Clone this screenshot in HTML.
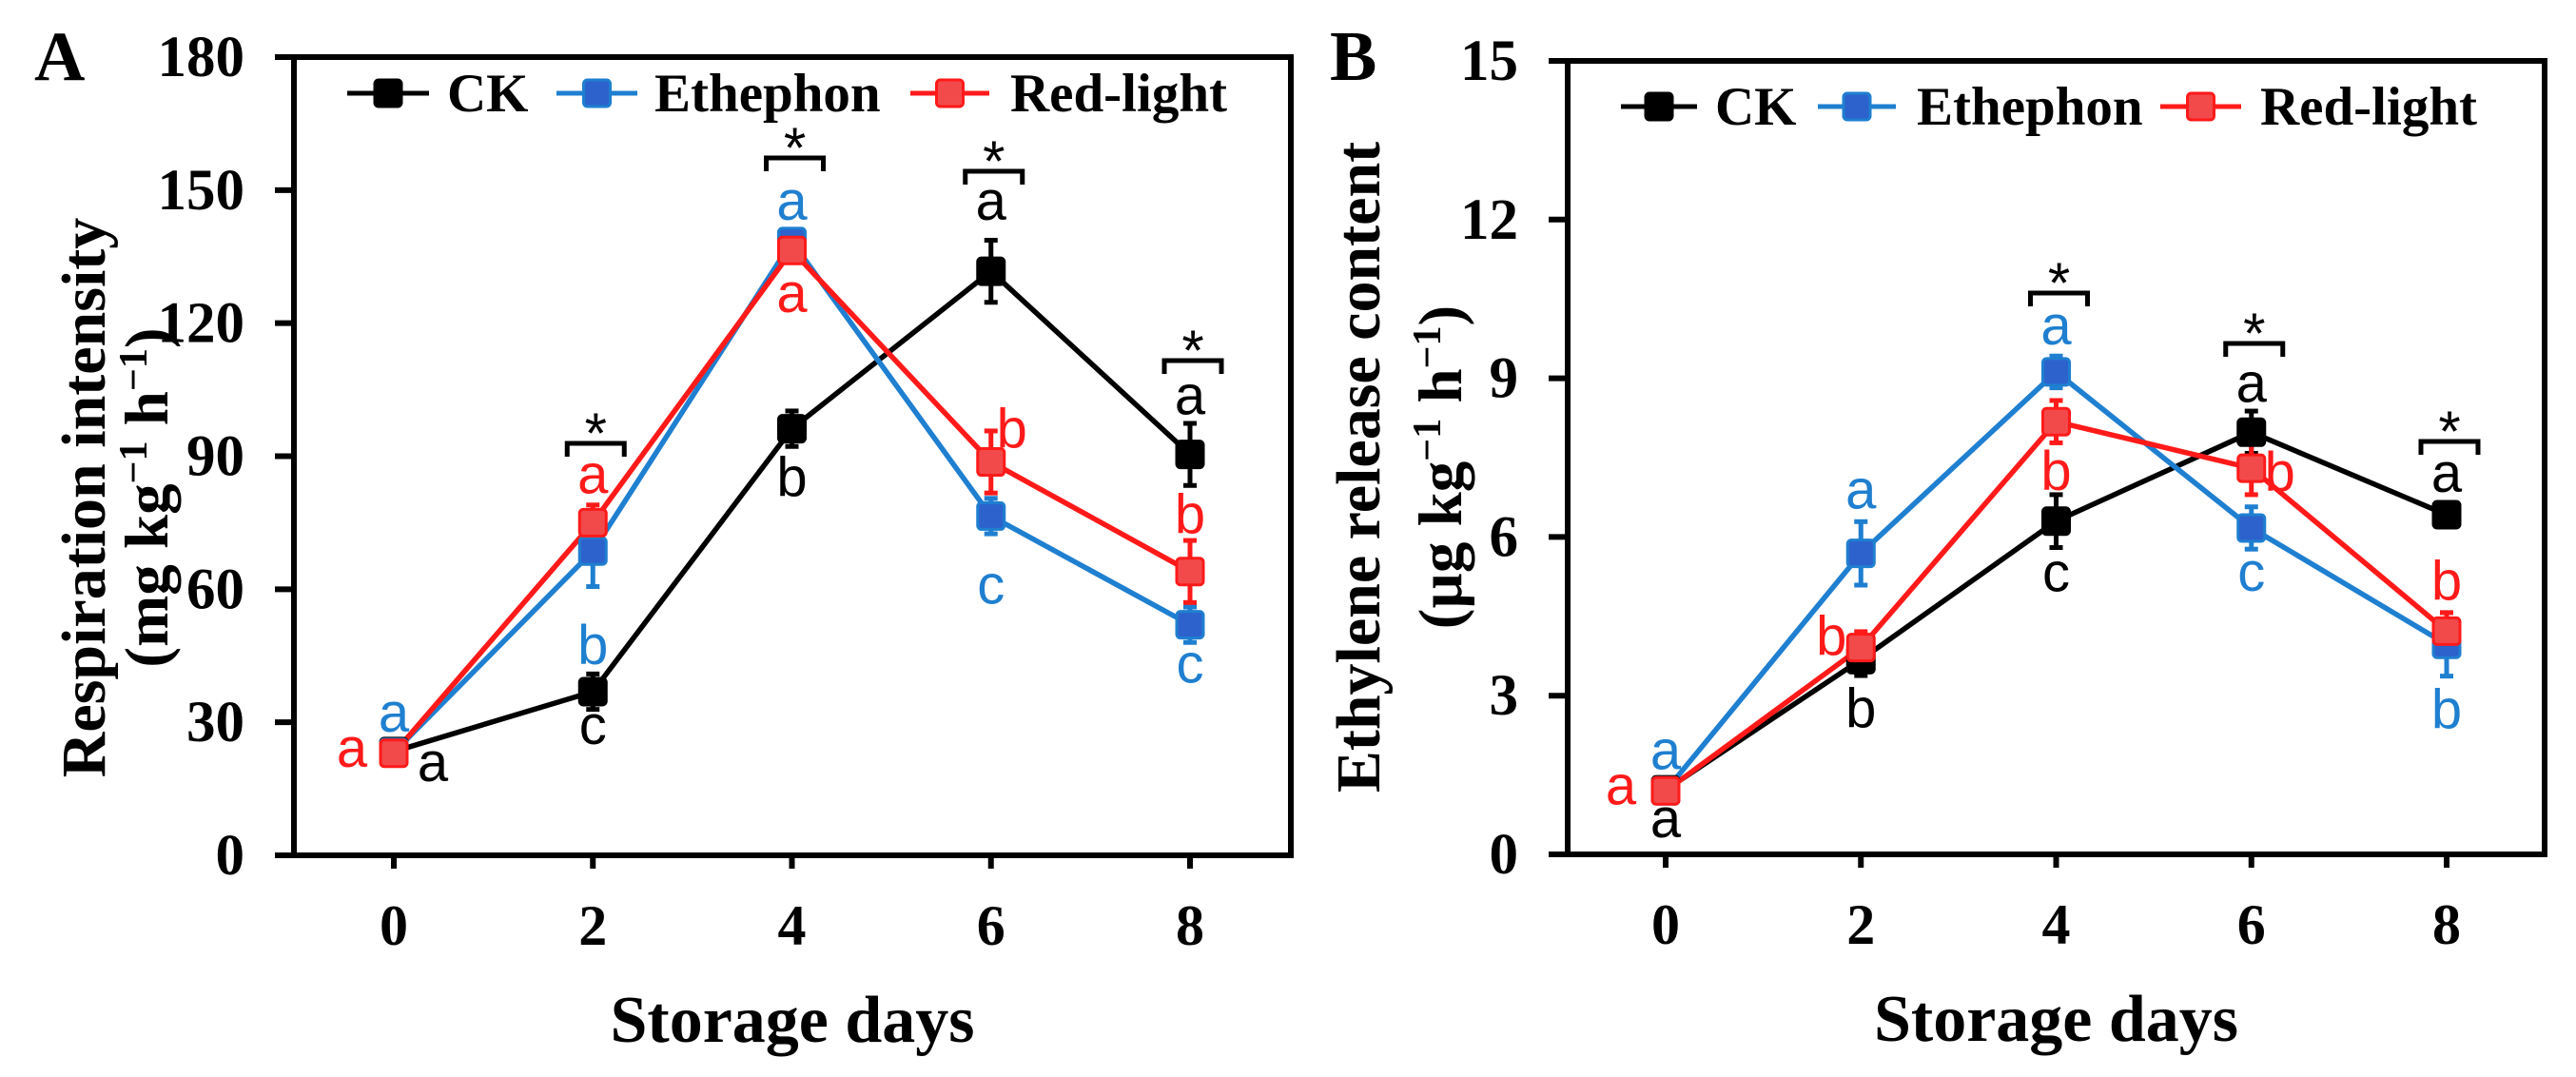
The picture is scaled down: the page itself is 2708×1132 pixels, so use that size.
<!DOCTYPE html>
<html><head><meta charset="utf-8"><style>
html,body{margin:0;padding:0;background:#fff}
svg{display:block}
.tk{font-family:"Liberation Serif",serif;font-weight:bold}
.lt{font-family:"Liberation Sans",sans-serif}
</style></head><body>
<svg id="fig" width="2708" height="1132" viewBox="0 0 2708 1132" xmlns="http://www.w3.org/2000/svg"></svg>
<script>
const days=[0,2,4,6,8];
const seriesNames=["CK","Ethephon","Red-light"];
const respCK=[23.4,36.9,96.2,131.7,90.4];
const respEth=[23.2,68.6,138.4,76.5,52];
const respRed=[23,75,136.4,88.7,64];
const respCKErr=[1.5,4,4,7,7];
const respEthErr=[1.5,8,2,4,4];
const respRedErr=[1.5,4,2,7,7];
const ethCK=[1.22,3.68,6.3,7.98,6.42];
const ethEth=[1.2,5.69,9.12,6.17,3.97];
const ethRed=[1.2,3.91,8.18,7.3,4.22];
const ethCKErr=[0.1,0.3,0.5,0.4,0.15];
const ethEthErr=[0.1,0.6,0.3,0.4,0.6];
const ethRedErr=[0.1,0.3,0.4,0.5,0.35];
const respTicks=[0,30,60,90,120,150,180];
const ethTicks=[0,3,6,9,12,15];
const respLetters=[["a","c","b","a","a"],["a","b","a","c","c"],["a","a","a","b","b"]];
const ethLetters=[["a","b","c","a","a"],["a","a","a","c","b"],["a","b","b","b","b"]];
const starDays=[[2,4,6,8],[4,6,8]];

const NS="http://www.w3.org/2000/svg";
const svg=document.getElementById('fig');
function mk(tag,attrs,parent){const e=document.createElementNS(NS,tag);for(const k in attrs)e.setAttribute(k,attrs[k]);(parent||svg).appendChild(e);return e;}
const colors=["#000","#1f7fd0","#ff1a1a"];
const fills=["#000","#2d62cc","#f24a4a"];

function panel(cfg){
  const g=mk('g',{});
  
  
  const X=d=>cfg.x0+(cfg.x8-cfg.x0)*d/8;
  const Y=v=>cfg.yb-(cfg.yb-cfg.yt)*v/cfg.ymax;
  const fr=mk('rect',{x:cfg.L,y:cfg.yt,width:cfg.R-cfg.L,height:cfg.yb-cfg.yt,fill:'none',stroke:'#000','stroke-width':6},g);
  
  cfg.ticks.forEach(t=>{
    mk('line',{x1:cfg.L-20,x2:cfg.L,y1:Y(t),y2:Y(t),stroke:'#000','stroke-width':6},g);
    const tx=mk('text',{x:cfg.L-52,y:Y(t)+20,'text-anchor':'end',class:'tk',style:'font-size:61px'},g);
    tx.textContent=t;
    
  });
  days.forEach(d=>{
    mk('line',{x1:X(d),x2:X(d),y1:cfg.yb,y2:cfg.yb+14,stroke:'#000','stroke-width':6},g);
    const tx=mk('text',{x:X(d),y:cfg.yb+94,'text-anchor':'middle',class:'tk',style:'font-size:60px'},g);
    tx.textContent=d;
    
  });
  const xt=mk('text',{x:(cfg.L+cfg.R)/2,y:cfg.yb+196,'text-anchor':'middle',class:'tk',style:'font-size:70px'},g);
  xt.textContent='Storage days';
  const y1=mk('text',{x:0,y:0,'text-anchor':'middle',class:'tk',style:'font-size:66px',transform:`translate(${cfg.yl1},${cfg.ylc}) rotate(-90)`},g);
  y1.textContent=cfg.ytitle;
  const y2=mk('text',{x:0,y:0,'text-anchor':'middle',class:'tk',style:'font-size:65px',transform:`translate(${cfg.yl2},${cfg.ylc}) rotate(-90)`},g);
  y2.innerHTML=cfg.yunit;
  const pl=mk('text',{x:cfg.plx,y:84,class:'tk',style:'font-size:74px'},g);
  pl.textContent=cfg.label;
  cfg.series.forEach((s,i)=>{
    const sg=mk('g',{},g);
    
    
    mk('polyline',{points:days.map((d,j)=>X(d)+','+Y(s[j])).join(' '),fill:'none',stroke:colors[i],'stroke-width':5.5},sg);
    days.forEach((d,j)=>{
      const e=cfg.errs[i][j],x=X(d);
      mk('line',{x1:x,x2:x,y1:Y(s[j]+e),y2:Y(s[j]-e),stroke:colors[i],'stroke-width':5},sg);
      mk('line',{x1:x-7,x2:x+7,y1:Y(s[j]+e),y2:Y(s[j]+e),stroke:colors[i],'stroke-width':5},sg);
      mk('line',{x1:x-7,x2:x+7,y1:Y(s[j]-e),y2:Y(s[j]-e),stroke:colors[i],'stroke-width':5},sg);
    });
  });
  cfg.series.forEach((s,i)=>{
    days.forEach((d,j)=>{
      const m=mk('rect',{x:X(d)-14,y:Y(s[j])-14,width:28,height:28,rx:4,fill:fills[i],stroke:colors[i],'stroke-width':3},g);
      
      
    });
  });
  cfg.letterPos.forEach((arr,i)=>{arr.forEach((p,j)=>{
    const t=mk('text',{x:X(days[j])+p[0],y:Y(cfg.series[i][j])+p[1],'text-anchor':'middle',class:'lt',style:'font-size:58px',fill:colors[i]},g);
    t.textContent=cfg.letters[i][j];
    
  });});
  cfg.stars.forEach((d,k)=>{
    const x=X(d),y=cfg.starY[k];
    const b=mk('path',{d:`M${x-27} ${y+14}V${y}H${x+33}V${y+14}`,fill:'none',stroke:'#000','stroke-width':5},g);
    
    const st=mk('text',{x:x+3,y:y+10,'text-anchor':'middle',class:'lt',style:'font-size:60px'},g);
    st.textContent='*';
  });
  cfg.legend.forEach((l,i)=>{
    const lg=mk('g',{},g);
    
    
    mk('line',{x1:l[0],x2:l[1],y1:cfg.legY,y2:cfg.legY,stroke:colors[i],'stroke-width':5},lg);
    mk('rect',{x:(l[0]+l[1])/2-14,y:cfg.legY-14,width:28,height:28,rx:4,fill:fills[i],stroke:colors[i],'stroke-width':3},lg);
    const t=mk('text',{x:l[2],y:cfg.legY+19,class:'tk',style:'font-size:57px'},lg);
    t.textContent=seriesNames[i];
  });
}

panel({name:'panel-a-respiration',label:'A',plx:36,L:309,R:1357,yt:60,yb:899,x0:414,x8:1251,ymax:180,ticks:respTicks,
  ytitle:'Respiration intensity',yunit:'(mg kg<tspan dy="-22" style="font-size:42px">−1</tspan><tspan dy="22"> h</tspan><tspan dy="-22" style="font-size:42px">−1</tspan><tspan dy="22">)</tspan>',
  yl1:110,yl2:176,ylc:523,
  series:[respCK,respEth,respRed],errs:[respCKErr,respEthErr,respRedErr],letters:respLetters,
  letterPos:[[[41,31],[0,55],[0,71],[0,-54],[0,-42]],[[0,-22],[0,119],[0,-23],[0,92],[0,61]],[[-44,14],[0,-31],[0,65],[22,-15],[0,-40]]],
  stars:starDays[0],starY:[466,166,180,379],
  legY:98,legend:[[365,451,470],[585,670,688],[957,1040,1062]]});

panel({name:'panel-b-ethylene',label:'B',plx:1398,L:1648,R:2675,yt:64,yb:898,x0:1751,x8:2572,ymax:15,ticks:ethTicks,
  ytitle:'Ethylene release content',yunit:'(µg  kg<tspan dy="-22" style="font-size:42px">−1</tspan><tspan dy="22"> h</tspan><tspan dy="-22" style="font-size:42px">−1</tspan><tspan dy="22">)</tspan>',
  yl1:1450,yl2:1536,ylc:491,
  series:[ethCK,ethEth,ethRed],errs:[ethCKErr,ethEthErr,ethRedErr],letters:ethLetters,
  letterPos:[[[0,50],[0,71],[0,74],[0,-32],[0,-24]],[[0,-23],[0,-47],[0,-29],[0,66],[0,88]],[[-47,14],[-31,8],[0,72],[30,24],[0,-33]]],
  stars:starDays[1],starY:[308,361,464],
  legY:112,legend:[[1704,1784,1803],[1911,1993,2015],[2271,2356,2376]]});
</script>
</body></html>
